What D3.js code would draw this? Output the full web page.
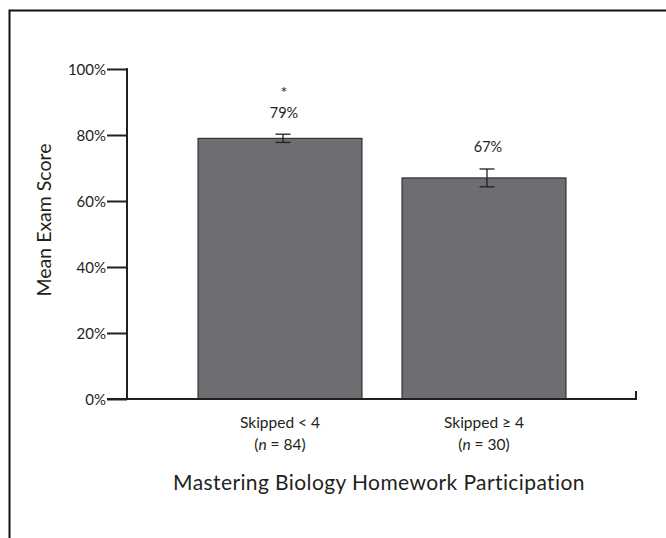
<!DOCTYPE html>
<html><head><meta charset="utf-8">
<script src="https://cdn.jsdelivr.net/npm/d3@7"></script>
<style>
body{margin:0;background:#fff;}
text{font-family:Lato,"Open Sans",sans-serif;fill:#231f20;font-weight:400;}
</style></head>
<body>
<svg id="c" width="666" height="538"></svg>
<script>
const categories = ["Skipped < 4", "Skipped \u2265 4"];
const sampleSizes = [84, 30];
const means = [79, 67];
const errors = [1.25, 2.7];
const valueLabels = ["79%", "67%"];
const significance = ["*", ""];
const yTicks = [0, 20, 40, 60, 80, 100];
const yTitle = "Mean Exam Score";
const xTitle = "Mastering Biology Homework Participation";

const svg = d3.select("#c");
const ink = "#231f20";

// frame
svg.append("path").attr("d","M9.5,538 V10.5 H666").attr("fill","none").attr("stroke","#111").attr("stroke-width",2);

const x = d3.scaleBand().domain(categories).range([178,586]).paddingInner(0.196).paddingOuter(0.098);
const y = d3.scaleLinear().domain([0,100]).range([399,69]);

// bars
svg.selectAll("rect.bar").data(categories).join("rect")
  .attr("x", d=>x(d)).attr("width", x.bandwidth())
  .attr("y", (d,i)=>y(means[i])).attr("height",(d,i)=>y(0)-y(means[i]))
  .attr("fill","#6d6e71").attr("stroke",ink).attr("stroke-width",1);

// error bars
const errOff = 3, capW = 7.5;
categories.forEach((c,i)=>{
  const cx = x(c)+x.bandwidth()/2+errOff;
  const g = svg.append("g").attr("stroke",ink).attr("stroke-width",1.3);
  g.append("line").attr("x1",cx).attr("x2",cx).attr("y1",y(means[i]+errors[i])).attr("y2",y(means[i]-errors[i]));
  g.append("line").attr("x1",cx-capW).attr("x2",cx+capW).attr("y1",y(means[i]+errors[i])).attr("y2",y(means[i]+errors[i]));
  g.append("line").attr("x1",cx-capW).attr("x2",cx+capW).attr("y1",y(means[i]-errors[i])).attr("y2",y(means[i]-errors[i]));
  const ly = y(means[i]+errors[i]) - 16.5;
  svg.append("text").attr("x",cx+1).attr("y",ly).attr("text-anchor","middle").attr("font-size",14.5).text(valueLabels[i]);
  if (significance[i]) svg.append("text").attr("x",cx+1).attr("y",ly-20).attr("text-anchor","middle").attr("font-size",16).text(significance[i]);
});

// y axis
const yAxis = d3.axisLeft(y).tickValues(yTicks).tickSize(20).tickPadding(1).tickFormat(d=>d+"%");
const ga = svg.append("g").attr("transform","translate(127,0)").call(yAxis);
ga.select(".domain").remove();
ga.selectAll(".tick line").attr("stroke",ink).attr("stroke-width",2);
ga.selectAll(".tick text").attr("font-size",15).attr("fill",ink).style("font-family","Lato,sans-serif").attr("dy","0.35em");
svg.append("line").attr("x1",127).attr("x2",127).attr("y1",y(100)-1).attr("y2",y(0)).attr("stroke",ink).attr("stroke-width",2);

// x axis baseline with end tick
svg.append("path").attr("d",`M107,${y(0)} H636 V${y(0)-8}`).attr("fill","none").attr("stroke",ink).attr("stroke-width",2);

// category labels
categories.forEach((c,i)=>{
  const cx = x(c)+x.bandwidth()/2;
  svg.append("text").attr("x",cx).attr("y",427.5).attr("text-anchor","middle").attr("font-size",15.5).text(c);
  const t = svg.append("text").attr("x",cx).attr("y",449.5).attr("text-anchor","middle").attr("font-size",15.5);
  t.append("tspan").text("(");
  t.append("tspan").attr("font-style","italic").text("n");
  t.append("tspan").text(" = "+sampleSizes[i]+")");
});

// titles
svg.append("text").attr("x",379).attr("y",490).attr("text-anchor","middle").attr("font-size",21).attr("letter-spacing",0.4).text(xTitle);
svg.append("text").attr("transform","translate(51,220) rotate(-90)").attr("text-anchor","middle").attr("font-size",19.5).text(yTitle);
</script>
</body></html>
